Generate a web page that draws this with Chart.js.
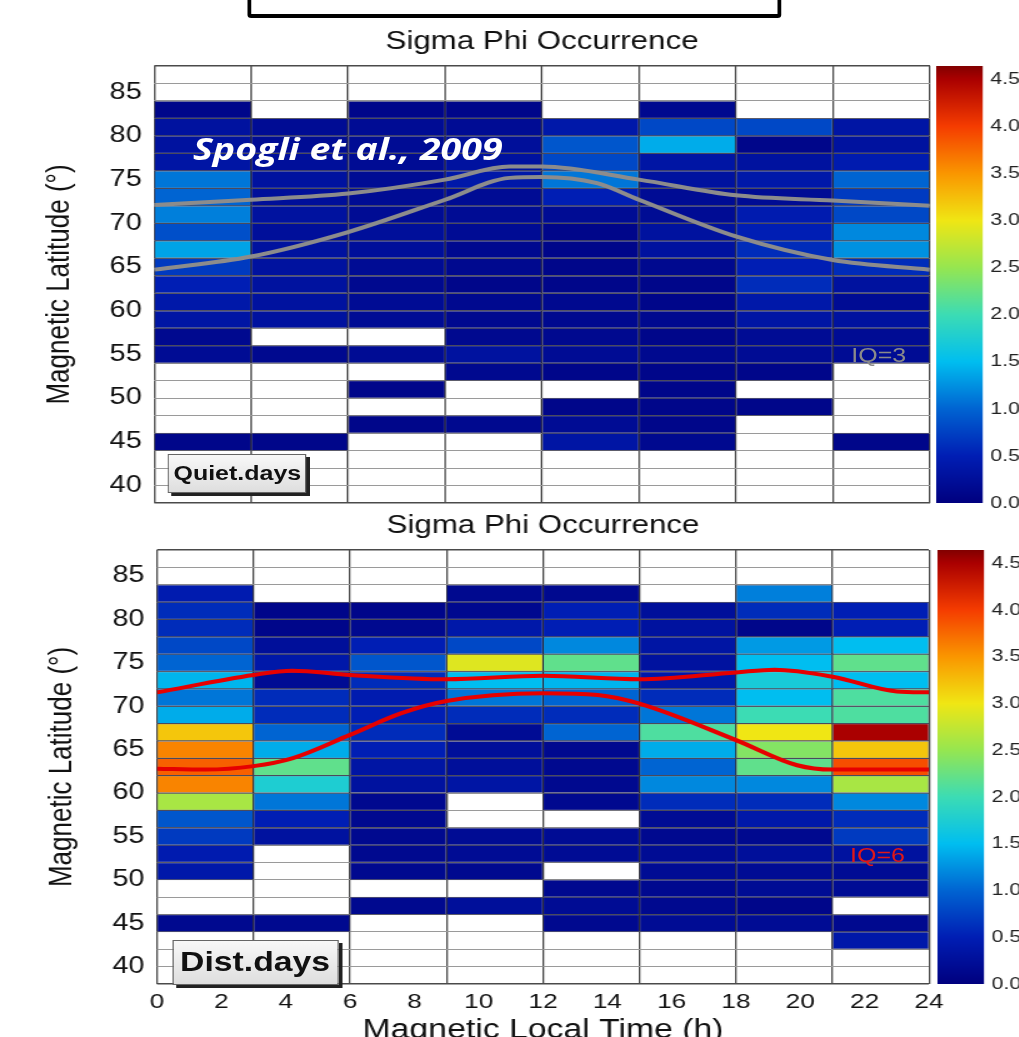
<!DOCTYPE html>
<html>
<head>
<meta charset="utf-8">
<title>Sigma Phi Occurrence</title>
<script src="https://cdn.jsdelivr.net/npm/chart.js@4.4.1/dist/chart.umd.min.js"></script>
<style>
  html, body { margin: 0; padding: 0; background: #fff; width: 1019px; height: 1037px; overflow: hidden; }
  /* the source figure is stretched ~1.25x horizontally, so everything lives in a scaled page */
  #page { position: relative; width: 815.2px; height: 1037px; transform: scaleX(1.25); transform-origin: 0 0;
          font-family: "Liberation Sans", Arial, sans-serif; }
  .wrap { position: absolute; }
  .frame { position: absolute; left: 197.6px; top: -10px; width: 421px; height: 20px;
           border: 4.5px solid #000; border-left-width: 3.6px; border-right-width: 3.6px; border-radius: 3px; }
  .cite { position: absolute; left: 154.4px; top: 131px; line-height: 36px; font-family: "Open Sans", sans-serif;
          font-weight: 700; font-style: italic; font-size: 30px; color: #fff; white-space: nowrap; }
  .tag { position: absolute; display: flex; align-items: center; justify-content: center; font-weight: bold; color: #111;
         background: linear-gradient(#f8f8f8, #dedede); border: 1px solid #666; box-shadow: 3px 3px 0 #222; box-sizing: border-box; }
  .iq { position: absolute; font-size: 20px; line-height: 24px; white-space: nowrap; }
</style>
</head>
<body>
<div id="page">
  <div class="frame"></div>
  <div class="wrap" style="left:0; top:20px; width:744.8px; height:503px;"><canvas id="quiet"></canvas></div>
  <div class="wrap" style="left:0; top:504px; width:759.2px; height:543px;"><canvas id="dist"></canvas></div>
  <div class="wrap" style="left:749.3px; top:52px; width:70px; height:465px;"><canvas id="cbarQuiet"></canvas></div>
  <div class="wrap" style="left:749.6px; top:536px; width:70px; height:462px;"><canvas id="cbarDist"></canvas></div>
  <div class="cite">Spogli et al., 2009</div>
  <div class="tag" style="left:134.4px; top:454px; width:111px; height:39px; font-size:20px;">Quiet.days</div>
  <div class="tag" style="left:137.6px; top:940px; width:133px; height:45px; font-size:27px;">Dist.days</div>
  <div class="iq" style="left:681px; top:343px; color:#8a8a8a;">IQ=3</div>
  <div class="iq" style="left:680px; top:843px; color:#e01818;">IQ=6</div>
</div>

<script>
// latitude bins (lower edge, 2 deg each), listed top to bottom
const latBins = [86, 84, 82, 80, 78, 76, 74, 72, 70, 68, 66, 64, 62, 60, 58, 56, 54, 52, 50, 48, 46, 44, 42, 40, 38];
const columnEdges = [0, 3, 6, 9, 12, 15, 18, 21, 24];
const timeTicks = [0, 2, 4, 6, 8, 10, 12, 14, 16, 18, 20, 22, 24];
const latTicks = [40, 45, 50, 55, 60, 65, 70, 75, 80, 85];
const latGridTicks = [38, 40, 42, 44, 46, 48, 50, 52, 54, 56, 58, 60, 62, 64, 66, 68, 70, 72, 74, 76, 78, 80, 82, 84, 86, 88];
const cbarTicks = [0, 0.5, 1.0, 1.5, 2.0, 2.5, 3.0, 3.5, 4.0, 4.5];
const cbarMax = 4.64;

// sigma phi occurrence, one row per latitude bin, one value per 3h MLT column (null = no data)
const n = null;
const quietDays = [
  [n, n, n, n, n, n, n, n],
  [n, n, n, n, n, n, n, n],
  [0.1, n, 0.1, 0.1, n, 0.15, n, n],
  [0.3, 0.2, 0.2, 0.2, 0.4, 0.8, 0.8, 0.35],
  [0.3, 0.2, 0.2, 0.25, 0.9, 1.4, 0.1, 0.3],
  [0.35, 0.25, 0.2, 0.3, 0.8, 0.35, 0.3, 0.45],
  [1.1, 0.3, 0.2, 0.4, 1.1, 0.3, 0.4, 1.0],
  [1.0, 0.25, 0.2, 0.2, 0.5, 0.2, 0.2, 0.7],
  [1.15, 0.3, 0.2, 0.2, 0.2, 0.2, 0.45, 0.8],
  [0.85, 0.25, 0.25, 0.2, 0.1, 0.3, 0.5, 1.2],
  [1.35, 0.3, 0.25, 0.15, 0.1, 0.3, 0.6, 1.25],
  [0.7, 0.3, 0.2, 0.15, 0.1, 0.15, 0.5, 0.6],
  [0.5, 0.3, 0.15, 0.1, 0.1, 0.1, 0.6, 0.3],
  [0.4, 0.3, 0.2, 0.15, 0.15, 0.1, 0.4, 0.2],
  [0.35, 0.3, 0.2, 0.15, 0.15, 0.15, 0.35, 0.3],
  [0.15, n, n, 0.15, 0.15, 0.1, 0.2, 0.2],
  [0.2, 0.15, 0.2, 0.3, 0.2, 0.15, 0.2, 0.2],
  [n, n, n, 0.15, 0.1, 0.1, 0.1, n],
  [n, n, 0.1, n, n, 0.1, n, n],
  [n, n, n, n, 0.1, 0.1, 0.1, n],
  [n, n, 0.1, 0.15, 0.2, 0.1, n, n],
  [0.1, 0.1, n, n, 0.35, 0.15, n, 0.1],
  [n, n, n, n, n, n, n, n],
  [n, n, n, n, n, n, n, n],
  [n, n, n, n, n, n, n, n]
];
const disturbedDays = [
  [n, n, n, n, n, n, n, n],
  [n, n, n, n, n, n, n, n],
  [0.45, n, n, 0.15, 0.15, n, 1.15, n],
  [0.6, 0.1, 0.1, 0.15, 0.5, 0.25, 0.6, 0.5],
  [0.6, 0.1, 0.15, 0.4, 0.5, 0.3, 0.1, 0.5],
  [0.8, 0.25, 0.5, 0.8, 1.2, 0.35, 1.3, 1.5],
  [1.0, 0.4, 0.9, 2.9, 2.2, 0.3, 1.5, 2.2],
  [1.45, 0.2, 0.6, 1.5, 1.45, 0.4, 1.7, 1.5],
  [1.1, 0.6, 0.45, 1.1, 1.0, 0.6, 1.5, 2.1],
  [1.4, 0.6, 0.5, 0.6, 0.6, 1.1, 2.0, 2.1],
  [3.2, 1.0, 0.6, 0.2, 1.0, 2.1, 3.0, 4.5],
  [3.6, 1.4, 0.5, 0.25, 0.15, 1.4, 2.4, 3.2],
  [3.8, 2.2, 0.35, 0.25, 0.15, 1.0, 2.2, 3.9],
  [3.6, 1.75, 0.3, 0.35, 0.15, 1.2, 1.2, 2.6],
  [2.6, 1.1, 0.15, n, 0.15, 0.6, 0.6, 1.2],
  [0.9, 0.5, 0.15, n, n, 0.2, 0.4, 0.6],
  [0.7, 0.3, 0.15, 0.2, 0.2, 0.15, 0.15, 0.7],
  [0.45, n, 0.15, 0.2, 0.2, 0.2, 0.25, 0.3],
  [0.4, n, 0.15, 0.15, n, 0.2, 0.2, 0.2],
  [n, n, n, n, 0.15, 0.15, 0.2, 0.2],
  [n, n, 0.15, 0.25, 0.2, 0.15, 0.1, n],
  [0.15, 0.15, n, n, 0.15, 0.2, 0.2, 0.15],
  [n, n, n, n, n, n, n, 0.4],
  [n, n, n, n, n, n, n, n],
  [n, n, n, n, n, n, n, n]
];

// auroral oval boundaries (IQ=3 and IQ=6)
const quietUpperTime = [0, 3, 6, 9, 11, 12, 15, 18, 21, 24];
const quietUpperLat = [72.1, 72.7, 73.4, 75.0, 76.5, 76.5, 75.0, 73.2, 72.6, 72.0];
const quietLowerTime = [0, 3, 6, 9, 11, 12, 13.7, 15, 18, 21, 24];
const quietLowerLat = [64.7, 66.2, 69.0, 72.7, 75.2, 75.3, 74.6, 72.7, 68.5, 65.8, 64.7];
const distUpperTime = [0, 3, 4.2, 6, 9, 12, 15, 18, 19.2, 21, 23, 24];
const distUpperLat = [71.6, 73.6, 74.1, 73.6, 73.1, 73.5, 73.1, 73.9, 74.2, 73.4, 71.7, 71.6];
const distLowerTime = [0, 1.5, 3, 4.2, 6, 7.6, 9, 12, 13.7, 15, 18, 19.9, 21, 24];
const distLowerLat = [62.8, 62.7, 63.1, 64.0, 66.7, 69.2, 70.6, 71.5, 71.3, 70.3, 66.1, 63.2, 62.7, 62.7];

// colour table
const colorStopValues = [0, 0.5, 1.0, 1.5, 2.0, 2.5, 3.0, 3.5, 4.0, 4.5, 4.64];
const colorStopColors = [[0, 0, 127], [0, 30, 180], [0, 100, 210], [0, 190, 240], [60, 220, 180],
  [150, 230, 80], [240, 230, 20], [250, 150, 0], [245, 60, 0], [170, 0, 0], [130, 0, 0]];

Chart.defaults.font.family = '"Liberation Sans", Arial, sans-serif';
Chart.defaults.color = '#111';

function colorFor(v) {
  if (v == null) return 'rgba(0,0,0,0)';
  let i = 0;
  while (i < colorStopValues.length - 2 && v > colorStopValues[i + 1]) i++;
  const f = Math.min(1, Math.max(0, (v - colorStopValues[i]) / (colorStopValues[i + 1] - colorStopValues[i])));
  const a = colorStopColors[i], b = colorStopColors[i + 1];
  return 'rgb(' + a.map((c, k) => Math.round(c + (b[k] - c) * f)).join(',') + ')';
}

function fixedTicks(values) {
  return (scale) => { scale.ticks = values.map(v => ({ value: v })); };
}

function curve(times, lats, color) {
  return {
    type: 'line', xAxisID: 'x', yAxisID: 'lat', order: -1,
    data: times.map((t, i) => ({ x: t, y: lats[i] })),
    borderColor: color, borderWidth: 4, pointRadius: 0,
    cubicInterpolationMode: 'monotone', fill: false
  };
}

function heatmap(id, grid, lines, o) {
  const datasets = lines.slice();
  for (let c = 0; c < columnEdges.length - 1; c++) {
    datasets.push({
      type: 'bar', indexAxis: 'y', xAxisID: 'x', yAxisID: 'rows',
      grouped: false, categoryPercentage: 1, barPercentage: 1,
      data: grid.map(row => row[c] == null ? null : [columnEdges[c], columnEdges[c + 1]]),
      backgroundColor: (ctx) => colorFor(grid[ctx.dataIndex][c]),
      borderColor: 'rgba(20,20,50,0.45)', borderWidth: 1, borderSkipped: false
    });
  }

  return new Chart(document.getElementById(id), {
    type: 'bar',
    data: { labels: latBins.map(String), datasets: datasets },
    options: {
      animation: false,
      responsive: true,
      maintainAspectRatio: false,
      layout: { padding: 0 },
      plugins: {
        legend: { display: false },
        tooltip: { enabled: false },
        title: {
          display: true, fullSize: false, text: 'Sigma Phi Occurrence', color: '#111',
          font: { size: 25, weight: 'normal' }, padding: { top: 7, bottom: 9 }
        }
      },
      scales: {
        x: {
          type: 'linear', axis: 'x', position: 'bottom', min: 0, max: 24, offset: false,
          afterBuildTicks: fixedTicks(timeTicks),
          ticks: { display: o.showTime, font: { size: 21 }, color: '#111', padding: 6 },
          grid: { display: false, drawTicks: false, offset: false },
          border: { display: false },
          title: { display: o.showTime, text: 'Magnetic Local Time (h)', font: { size: 27 }, color: '#111', padding: { top: 0, bottom: 0 } },
          afterFit: (s) => { s.height = o.timeHeight; s.paddingLeft = 0; s.paddingRight = 0; }
        },
        xGrid: {
          type: 'linear', axis: 'x', position: 'top', min: 0, max: 24, offset: false,
          afterBuildTicks: fixedTicks(columnEdges),
          ticks: { display: false },
          grid: { color: '#4a4a4a', lineWidth: 1.3, drawTicks: false, offset: false },
          border: { display: false },
          afterFit: (s) => { s.height = 0; s.paddingLeft = 0; s.paddingRight = 0; }
        },
        rows: { type: 'category', axis: 'y', display: false, offset: true },
        lat: {
          type: 'linear', axis: 'y', position: 'left', min: 38, max: 88, offset: false,
          afterBuildTicks: fixedTicks(latTicks),
          ticks: { font: { size: 23 }, color: '#111', padding: 10 },
          grid: { display: false, drawTicks: false },
          border: { display: false },
          title: { display: true, text: 'Magnetic Latitude (°)', font: { size: 26 }, color: '#111', padding: { top: o.titlePad, bottom: 0 } },
          afterFit: (s) => { s.width = o.latWidth; s.paddingTop = 0; s.paddingBottom = 0; }
        },
        latGrid: {
          type: 'linear', axis: 'y', position: 'right', min: 38, max: 88, offset: false,
          afterBuildTicks: fixedTicks(latGridTicks),
          ticks: { display: false },
          grid: {
            color: (ctx) => (ctx.tick && (ctx.tick.value === 38 || ctx.tick.value === 88)) ? '#4a4a4a' : '#9a9a9a',
            lineWidth: (ctx) => (ctx.tick && (ctx.tick.value === 38 || ctx.tick.value === 88)) ? 1.6 : 1,
            drawTicks: false, offset: false
          },
          border: { display: false },
          afterFit: (s) => { s.width = o.rightSpace; s.paddingTop = 0; s.paddingBottom = 0; }
        }
      }
    }
  });
}

function colorbar(id) {
  return new Chart(document.getElementById(id), {
    type: 'bar',
    data: {
      labels: [''],
      datasets: [{
        data: [[0, cbarMax]],
        categoryPercentage: 1, barPercentage: 1, borderWidth: 0,
        backgroundColor: (ctx) => {
          const area = ctx.chart.chartArea;
          if (!area) return null;
          const g = ctx.chart.ctx.createLinearGradient(0, area.bottom, 0, area.top);
          colorStopValues.forEach((v, i) => g.addColorStop(v / cbarMax, 'rgb(' + colorStopColors[i].join(',') + ')'));
          return g;
        }
      }]
    },
    options: {
      animation: false,
      responsive: true,
      maintainAspectRatio: false,
      layout: { padding: { top: 14, bottom: 14, left: 0, right: 0 } },
      plugins: { legend: { display: false }, tooltip: { enabled: false } },
      scales: {
        x: { display: false },
        y: {
          position: 'right', min: 0, max: cbarMax,
          afterBuildTicks: fixedTicks(cbarTicks),
          ticks: { font: { size: 17 }, color: '#222', padding: 6, callback: (v) => Number(v).toFixed(1) },
          grid: { display: false, drawTicks: false },
          border: { display: false },
          afterFit: (s) => { s.width = 32.7; s.paddingTop = 0; s.paddingBottom = 0; }
        }
      }
    }
  });
}

heatmap('quiet', quietDays, [
  curve(quietUpperTime, quietUpperLat, '#8c8c8c'),
  curve(quietLowerTime, quietLowerLat, '#8c8c8c')
], { showTime: false, timeHeight: 20, latWidth: 123.2, titlePad: 32.4, rightSpace: 0 });

heatmap('dist', disturbedDays, [
  curve(distUpperTime, distUpperLat, '#e60000'),
  curve(distLowerTime, distLowerLat, '#e60000')
], { showTime: true, timeHeight: 63, latWidth: 125.6, titlePad: 34, rightSpace: 16 });

colorbar('cbarQuiet');
colorbar('cbarDist');
</script>
</body>
</html>
